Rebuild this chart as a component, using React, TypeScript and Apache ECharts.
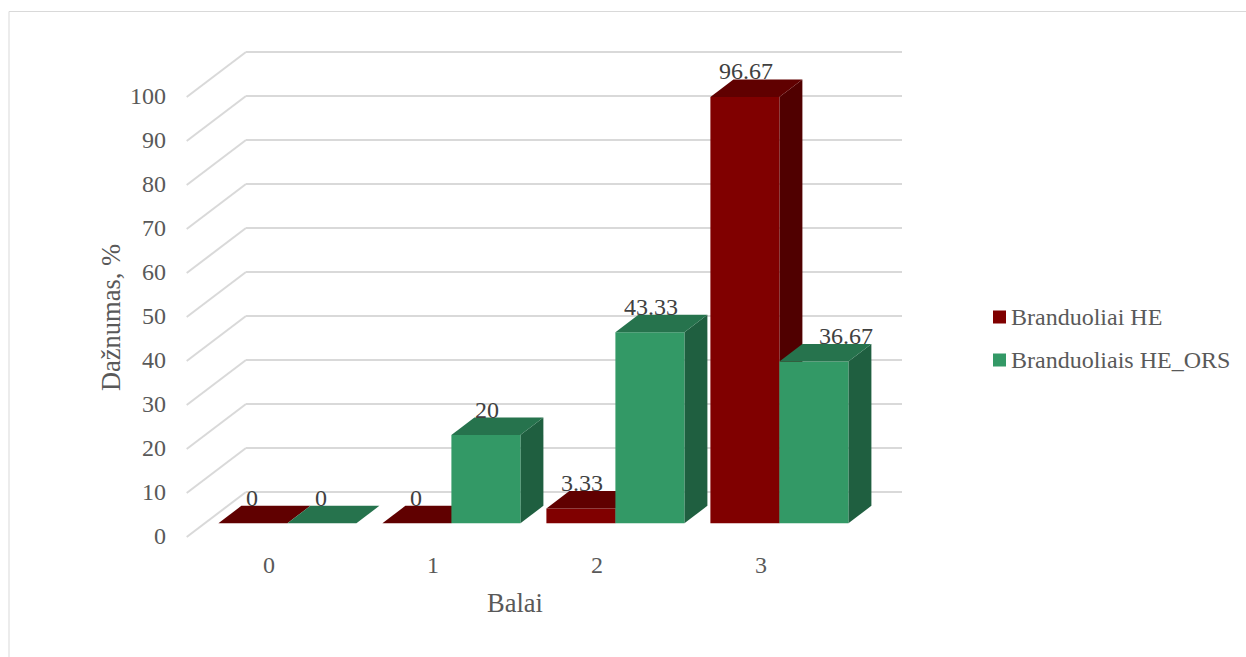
import React, { useEffect, useRef } from "react";
import * as echarts from "echarts";

const categories = ["0", "1", "2", "3"];
const seriesNames = ["Branduoliai HE", "Branduoliais HE_ORS"];
const heValues = [0, 0, 3.33, 96.67];
const orsValues = [0, 20, 43.33, 36.67];
const valueTicks = [0, 10, 20, 30, 40, 50, 60, 70, 80, 90, 100];

// Face colours of each 3-D column: front, top, side.
const redFaces = ["#800000", "#600000", "#500000"];
const greenFaces = ["#339966", "#26734d", "#1f5f40"];

const FONT = '"Liberation Serif", "Times New Roman", serif';
const AXIS_TEXT = "#595959";
const VALUE_TEXT = "#404040";
const GRID_LINE = "#d9d9d9";
const TICK_SIZE = 24;
const TITLE_SIZE = 26.5;

// Oblique projection: how far a column's depth shifts up and to the right.
const DEPTH_X = 23;
const DEPTH_Y = 17.5;
const WALL_X = 59.3;
const WALL_Y = 45;
const BAR_SHARE = 69 / 164;

function columnRenderer(seriesIndex: number, faces: string[]) {
  return (_params: any, api: any) => {
    const cat = api.value(0);
    const val = api.value(1);
    const barW = api.size([1, 0])[0] * BAR_SHARE;
    const [cx, yTop] = api.coord([cat, val]);
    const [, yBase] = api.coord([cat, 0]);
    const x0 = cx + (seriesIndex - 1) * barW;
    const x1 = x0 + barW;
    const children: any[] = [];
    if (val > 0) {
      children.push({
        type: "polygon",
        shape: {
          points: [
            [x1, yTop],
            [x1 + DEPTH_X, yTop - DEPTH_Y],
            [x1 + DEPTH_X, yBase - DEPTH_Y],
            [x1, yBase],
          ],
        },
        style: { fill: faces[2] },
      });
      children.push({
        type: "rect",
        shape: { x: x0, y: yTop, width: barW, height: yBase - yTop },
        style: { fill: faces[0] },
      });
    }
    children.push({
      type: "polygon",
      shape: {
        points: [
          [x0, yTop],
          [x1, yTop],
          [x1 + DEPTH_X, yTop - DEPTH_Y],
          [x0 + DEPTH_X, yTop - DEPTH_Y],
        ],
      },
      style: { fill: faces[1] },
    });
    // The label of the last green column sits out towards its right edge;
    // labels of empty columns lean slightly left.
    let nudged = val > 0 ? 1 : -1;
    if (seriesIndex === 1 && cat === 3) nudged = 32;
    children.push({
      type: "text",
      z2: 10,
      style: {
        x: (x0 + x1) / 2 + nudged,
        y: yTop - DEPTH_Y - 8,
        text: String(val),
        align: "center",
        verticalAlign: "middle",
        fontFamily: FONT,
        fontSize: TICK_SIZE,
        fill: VALUE_TEXT,
      },
    });
    return { type: "group", children };
  };
}

// Slanted part of each gridline, running from the back wall down to the floor's front edge.
function wallEdgeRenderer(_params: any, api: any) {
  const [cx, y] = api.coord([0, api.value(0)]);
  const x = cx - api.size([1, 0])[0] / 2;
  return {
    type: "line",
    shape: { x1: x, y1: y, x2: x - WALL_X, y2: y + WALL_Y },
    style: { stroke: GRID_LINE, lineWidth: 2 },
  };
}

const hiddenCategory = (gridIndex: number) => ({
  type: "category" as const,
  gridIndex,
  data: categories,
  show: false,
});

export default function App() {
  const ref = useRef<HTMLDivElement>(null);

  useEffect(() => {
    const chart = echarts.init(ref.current!, null, { renderer: "svg" });
    chart.setOption({
      animation: false,
      backgroundColor: "#ffffff",
      textStyle: { fontFamily: FONT },
      graphic: [
        {
          type: "rect",
          silent: true,
          shape: { x: 9, y: 11.5, width: 1300, height: 700 },
          style: { fill: "none", stroke: GRID_LINE, lineWidth: 1 },
        },
      ],
      grid: [
        // carries the axis labels and titles
        { left: 187, top: 95.5, width: 656, height: 440 },
        // back wall, carries the gridlines
        { left: 246, top: 52, width: 656, height: 440 },
        // plane of the columns' front faces
        { left: 205.4, top: 82.3, width: 656, height: 441 },
      ],
      xAxis: [
        {
          type: "category",
          gridIndex: 0,
          data: categories,
          name: "Balai",
          nameLocation: "middle",
          nameGap: 54,
          nameTextStyle: { fontFamily: FONT, fontSize: TITLE_SIZE, color: AXIS_TEXT },
          axisLine: { show: false },
          axisTick: { show: false },
          axisLabel: { margin: 17, fontFamily: FONT, fontSize: TICK_SIZE, color: AXIS_TEXT },
        },
        hiddenCategory(1),
        hiddenCategory(2),
      ],
      yAxis: [
        {
          type: "value",
          gridIndex: 0,
          min: 0,
          max: 100,
          interval: 10,
          name: "Dažnumas, %",
          nameLocation: "middle",
          nameGap: 63,
          nameMoveOverlap: false,
          nameRotate: 90,
          nameTextStyle: {
            fontFamily: FONT,
            fontSize: TITLE_SIZE,
            color: AXIS_TEXT,
            padding: [0, 4, 0, 0],
          },
          axisLine: { show: false },
          axisTick: { show: false },
          splitLine: { show: false },
          axisLabel: { margin: 21, fontFamily: FONT, fontSize: TICK_SIZE, color: AXIS_TEXT },
        },
        {
          type: "value",
          gridIndex: 1,
          min: 0,
          max: 100,
          interval: 10,
          axisLine: { show: false },
          axisTick: { show: false },
          axisLabel: { show: false },
          splitLine: { show: true, lineStyle: { color: GRID_LINE, width: 2 } },
        },
        {
          type: "value",
          gridIndex: 2,
          min: 0,
          max: 100,
          interval: 10,
          show: false,
          splitLine: { show: false },
        },
      ],
      legend: {
        orient: "vertical",
        left: 988,
        top: 300,
        icon: "rect",
        itemWidth: 13,
        itemHeight: 13,
        itemGap: 19,
        data: seriesNames,
        textStyle: { fontFamily: FONT, fontSize: TICK_SIZE, color: AXIS_TEXT },
      },
      series: [
        {
          type: "custom",
          name: "wall",
          xAxisIndex: 1,
          yAxisIndex: 1,
          clip: false,
          silent: true,
          z: 1,
          data: valueTicks.map((v) => [v]),
          encode: { y: 0 },
          renderItem: wallEdgeRenderer,
        },
        {
          type: "custom",
          name: seriesNames[0],
          xAxisIndex: 2,
          yAxisIndex: 2,
          clip: false,
          z: 3,
          itemStyle: { color: redFaces[0] },
          data: heValues.map((v, i) => [i, v]),
          encode: { x: 0, y: 1 },
          renderItem: columnRenderer(0, redFaces),
        },
        {
          type: "custom",
          name: seriesNames[1],
          xAxisIndex: 2,
          yAxisIndex: 2,
          clip: false,
          z: 4,
          itemStyle: { color: greenFaces[0] },
          data: orsValues.map((v, i) => [i, v]),
          encode: { x: 0, y: 1 },
          renderItem: columnRenderer(1, greenFaces),
        },
      ],
    });
    return () => chart.dispose();
  }, []);

  return (
    <div
      ref={ref}
      style={{ position: "fixed", left: 0, top: 0, width: 1246, height: 657 }}
    />
  );
}
